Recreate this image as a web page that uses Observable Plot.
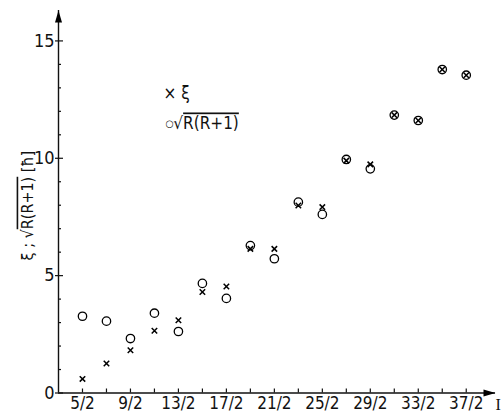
<!DOCTYPE html>
<html><head><meta charset="utf-8">
<script src="https://cdn.jsdelivr.net/npm/d3@7"></script>
<script src="https://cdn.jsdelivr.net/npm/@observablehq/plot@0.6"></script>
<style>
body{margin:0;background:#fff;}
#chart{position:relative;width:503px;height:413px;}
</style>
</head><body><div id="chart"></div>
<script>
// spin I = n/2
const spinNumerators = [5,7,9,11,13,15,17,19,21,23,25,27,29,31,33,35,37];
const xiValues   = [0.60,1.26,1.82,2.65,3.10,4.30,4.54,6.14,6.14,7.99,7.92,9.90,9.74,11.84,11.61,13.78,13.54];
const sqrtRValues= [3.27,3.06,2.32,3.40,2.62,4.67,4.03,6.28,5.72,8.13,7.61,9.95,9.55,11.84,11.61,13.78,13.54];
const xTickLabels = ["5/2","9/2","13/2","17/2","21/2","25/2","29/2","33/2","37/2"];
const yTickLabels = [0,5,10,15];
const yLabel = "ξ ; √R(R+1) [ħ]";
const legendXi = "× ξ";
const legendR = "○√R(R+1)";
const xAxisLabel = "I";

const xDomain = [1.5, 19.72];
const yDomain = [0, 16.3];

const pts = spinNumerators.map((n,i)=>({I:n/2, xi:xiValues[i], r:sqrtRValues[i]}));
const xLabelVals = xTickLabels.map(s=>+s.split("/")[0]/+s.split("/")[1]);
const xMinor = spinNumerators.map(n=>n/2);
const yMinor = d3.range(1,16).filter(v=>v%5!==0);

const arrowHead = {draw(ctx){ ctx.moveTo(0,0); ctx.lineTo(-3.5,12); ctx.lineTo(3.5,12); ctx.closePath(); }};

const FONT = "'Liberation Sans Narrow','DejaVu Sans Condensed','Liberation Sans',sans-serif";

const svg = Plot.plot({
  width: 503, height: 413,
  marginLeft: 58, marginRight: 8, marginTop: 9.9, marginBottom: 20.5,
  x: {domain: xDomain},
  y: {domain: yDomain},
  style: {fontFamily: FONT, fontSize: "17px", background: "white", color: "#111"},
  marks: [
    Plot.ruleY([0], {strokeWidth: 1.4}),
    Plot.ruleX([xDomain[0]], {strokeWidth: 1.4}),
    Plot.dot([xDomain[1]], {x: d=>d, y: yDomain[0], symbol: arrowHead, rotate: 90, fill: "black", stroke: "none"}),
    Plot.dot([yDomain[1]], {x: xDomain[0], y: d=>d, symbol: arrowHead, fill: "black", stroke: "none"}),
    Plot.axisX(xMinor, {tickSize: -4, tickFormat: () => "", label: null, strokeWidth: 1.2}),
    Plot.axisX(xLabelVals, {tickSize: 0, tickPadding: 4, tickFormat: (d,i) => xTickLabels[i], label: null, fontSize: 17}),
    Plot.axisY(yMinor, {tickSize: -3, tickFormat: () => "", label: null, strokeWidth: 1.2}),
    Plot.axisY(yTickLabels, {tickSize: -5, tickFormat: () => "", label: null, strokeWidth: 1.2}),
    Plot.axisY(yTickLabels, {tickSize: 3, tickPadding: 1, label: null, strokeWidth: 1.2, fontSize: 18}),
    Plot.text([xAxisLabel], {text: d=>d, x: xDomain[1], y: yDomain[0], dx: 0, dy: 12, fontFamily: "'Liberation Serif',serif", fontSize: 16, textAnchor: "start"}),
    Plot.text([yLabel], {text: d=>d, frameAnchor: "left", textAnchor: "middle", rotate: -90, dx: -31, dy: 4, fontSize: 16}),
    Plot.text([legendXi], {text: d=>d, frameAnchor: "top-left", dx: 105, dy: 77, textAnchor: "start", fontSize: 17}),
    Plot.text([legendR], {text: d=>d, frameAnchor: "top-left", dx: 107, dy: 107, textAnchor: "start", fontSize: 17}),
    Plot.dot(pts, {x: "I", y: "r", r: 4.2, stroke: "black", strokeWidth: 1.3, fill: "none"}),
    Plot.dot(pts, {x: "I", y: "xi", symbol: "times", r: 2.6, stroke: "black", strokeWidth: 1.5})
  ]
});

// add overline for the square-root argument; shrink the legend circle glyph
d3.select(svg).selectAll("text").each(function(){
  const t = this.textContent;
  if (t === yLabel || t === legendR) {
    const idx = t.indexOf("R(R+1)");
    const el = d3.select(this);
    el.text("");
    let head = t.slice(0, idx);
    if (head.startsWith("○")) {
      el.append("tspan").style("font-size", "10px").attr("dy", -2).text("○");
      head = head.slice(1);
      el.append("tspan").attr("dy", 2).text(head);
    } else {
      el.append("tspan").text(head);
    }
    el.append("tspan").style("text-decoration", "overline").text("R(R+1)");
    el.append("tspan").text(t.slice(idx + 6));
  }
});
document.getElementById("chart").appendChild(svg);
</script>
</body></html>
